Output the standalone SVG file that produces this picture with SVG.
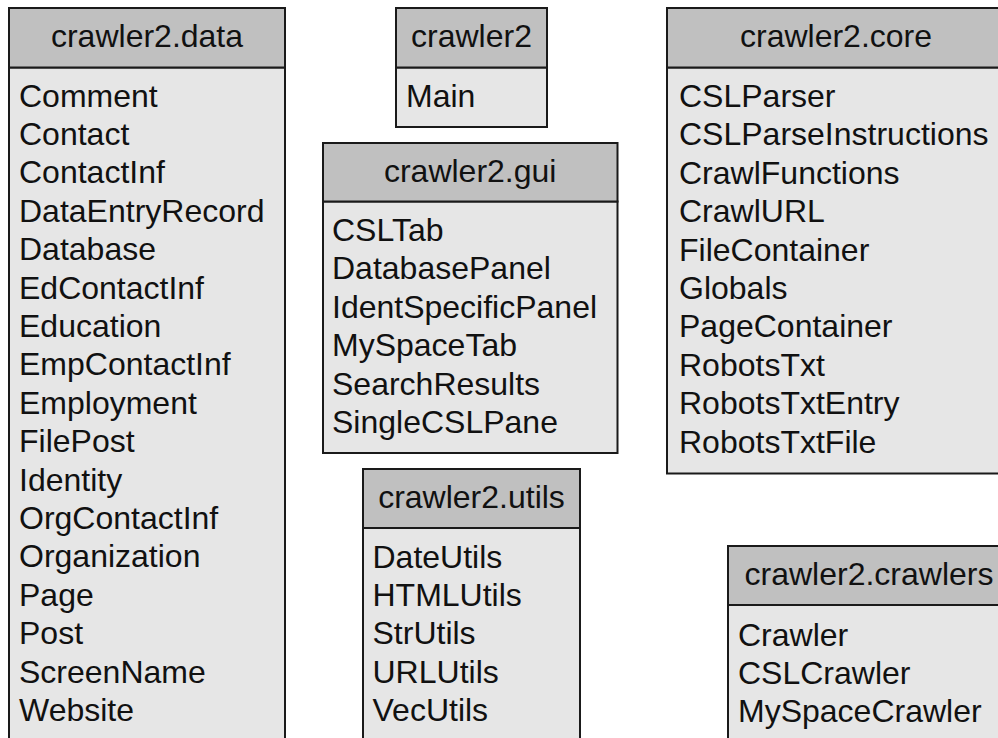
<svg xmlns="http://www.w3.org/2000/svg" width="998" height="738" viewBox="0 0 998 738">
<style>
  .hdr { fill: #c0c0c0; stroke: #1a1a1a; stroke-width: 2; }
  .body { fill: #e6e6e6; stroke: #1a1a1a; stroke-width: 2; }
  text { font-family: "Liberation Sans", Arial, sans-serif; font-size: 32px; fill: #111; }
  .title { text-anchor: middle; }
</style>
<rect width="998" height="738" fill="#ffffff"/>

<g id="crawler2.data">
  <rect class="body" x="9" y="67.5" width="276" height="690"/>
  <rect class="hdr" x="9" y="8" width="276" height="59.5"/>
  <text class="title" x="147" y="46.5">crawler2.data</text>
  <text x="19" y="106.5">Comment</text>
  <text x="19" y="144.9">Contact</text>
  <text x="19" y="183.3">ContactInf</text>
  <text x="19" y="221.7">DataEntryRecord</text>
  <text x="19" y="260.1">Database</text>
  <text x="19" y="298.5">EdContactInf</text>
  <text x="19" y="336.9">Education</text>
  <text x="19" y="375.3">EmpContactInf</text>
  <text x="19" y="413.7">Employment</text>
  <text x="19" y="452.1">FilePost</text>
  <text x="19" y="490.5">Identity</text>
  <text x="19" y="528.9">OrgContactInf</text>
  <text x="19" y="567.3">Organization</text>
  <text x="19" y="605.7">Page</text>
  <text x="19" y="644.1">Post</text>
  <text x="19" y="682.5">ScreenName</text>
  <text x="19" y="720.9">Website</text>
</g>

<g id="crawler2">
  <rect class="body" x="396" y="67.5" width="151" height="59.5"/>
  <rect class="hdr" x="396" y="8" width="151" height="59.5"/>
  <text class="title" x="471.5" y="46.5">crawler2</text>
  <text x="406" y="106.5">Main</text>
</g>

<g id="crawler2.gui">
  <rect class="body" x="323" y="201.5" width="294.5" height="251.5"/>
  <rect class="hdr" x="323" y="143" width="294.5" height="58.5"/>
  <text class="title" x="470.2" y="181.5">crawler2.gui</text>
  <text x="332" y="241">CSLTab</text>
  <text x="332" y="279.4">DatabasePanel</text>
  <text x="332" y="317.8">IdentSpecificPanel</text>
  <text x="332" y="356.2">MySpaceTab</text>
  <text x="332" y="394.6">SearchResults</text>
  <text x="332" y="433">SingleCSLPane</text>
</g>

<g id="crawler2.utils">
  <rect class="body" x="363" y="528" width="217" height="230"/>
  <rect class="hdr" x="363" y="469" width="217" height="59"/>
  <text class="title" x="471.5" y="507.5">crawler2.utils</text>
  <text x="372.5" y="567.5">DateUtils</text>
  <text x="372.5" y="605.9">HTMLUtils</text>
  <text x="372.5" y="644.3">StrUtils</text>
  <text x="372.5" y="682.7">URLUtils</text>
  <text x="372.5" y="721.1">VecUtils</text>
</g>

<g id="crawler2.core">
  <rect class="body" x="667" y="67.5" width="338" height="406"/>
  <rect class="hdr" x="667" y="8" width="338" height="59.5"/>
  <text class="title" x="836" y="46.5">crawler2.core</text>
  <text x="679" y="107">CSLParser</text>
  <text x="679" y="145.4">CSLParseInstructions</text>
  <text x="679" y="183.8">CrawlFunctions</text>
  <text x="679" y="222.2">CrawlURL</text>
  <text x="679" y="260.6">FileContainer</text>
  <text x="679" y="299">Globals</text>
  <text x="679" y="337.4">PageContainer</text>
  <text x="679" y="375.8">RobotsTxt</text>
  <text x="679" y="414.2">RobotsTxtEntry</text>
  <text x="679" y="452.6">RobotsTxtFile</text>
</g>

<g id="crawler2.crawlers">
  <rect class="body" x="728" y="605" width="282" height="160"/>
  <rect class="hdr" x="728" y="546" width="282" height="59"/>
  <text class="title" x="869" y="584.5">crawler2.crawlers</text>
  <text x="738" y="645.5">Crawler</text>
  <text x="738" y="683.9">CSLCrawler</text>
  <text x="738" y="722.3">MySpaceCrawler</text>
</g>

<g id="connectors"></g>
</svg>
